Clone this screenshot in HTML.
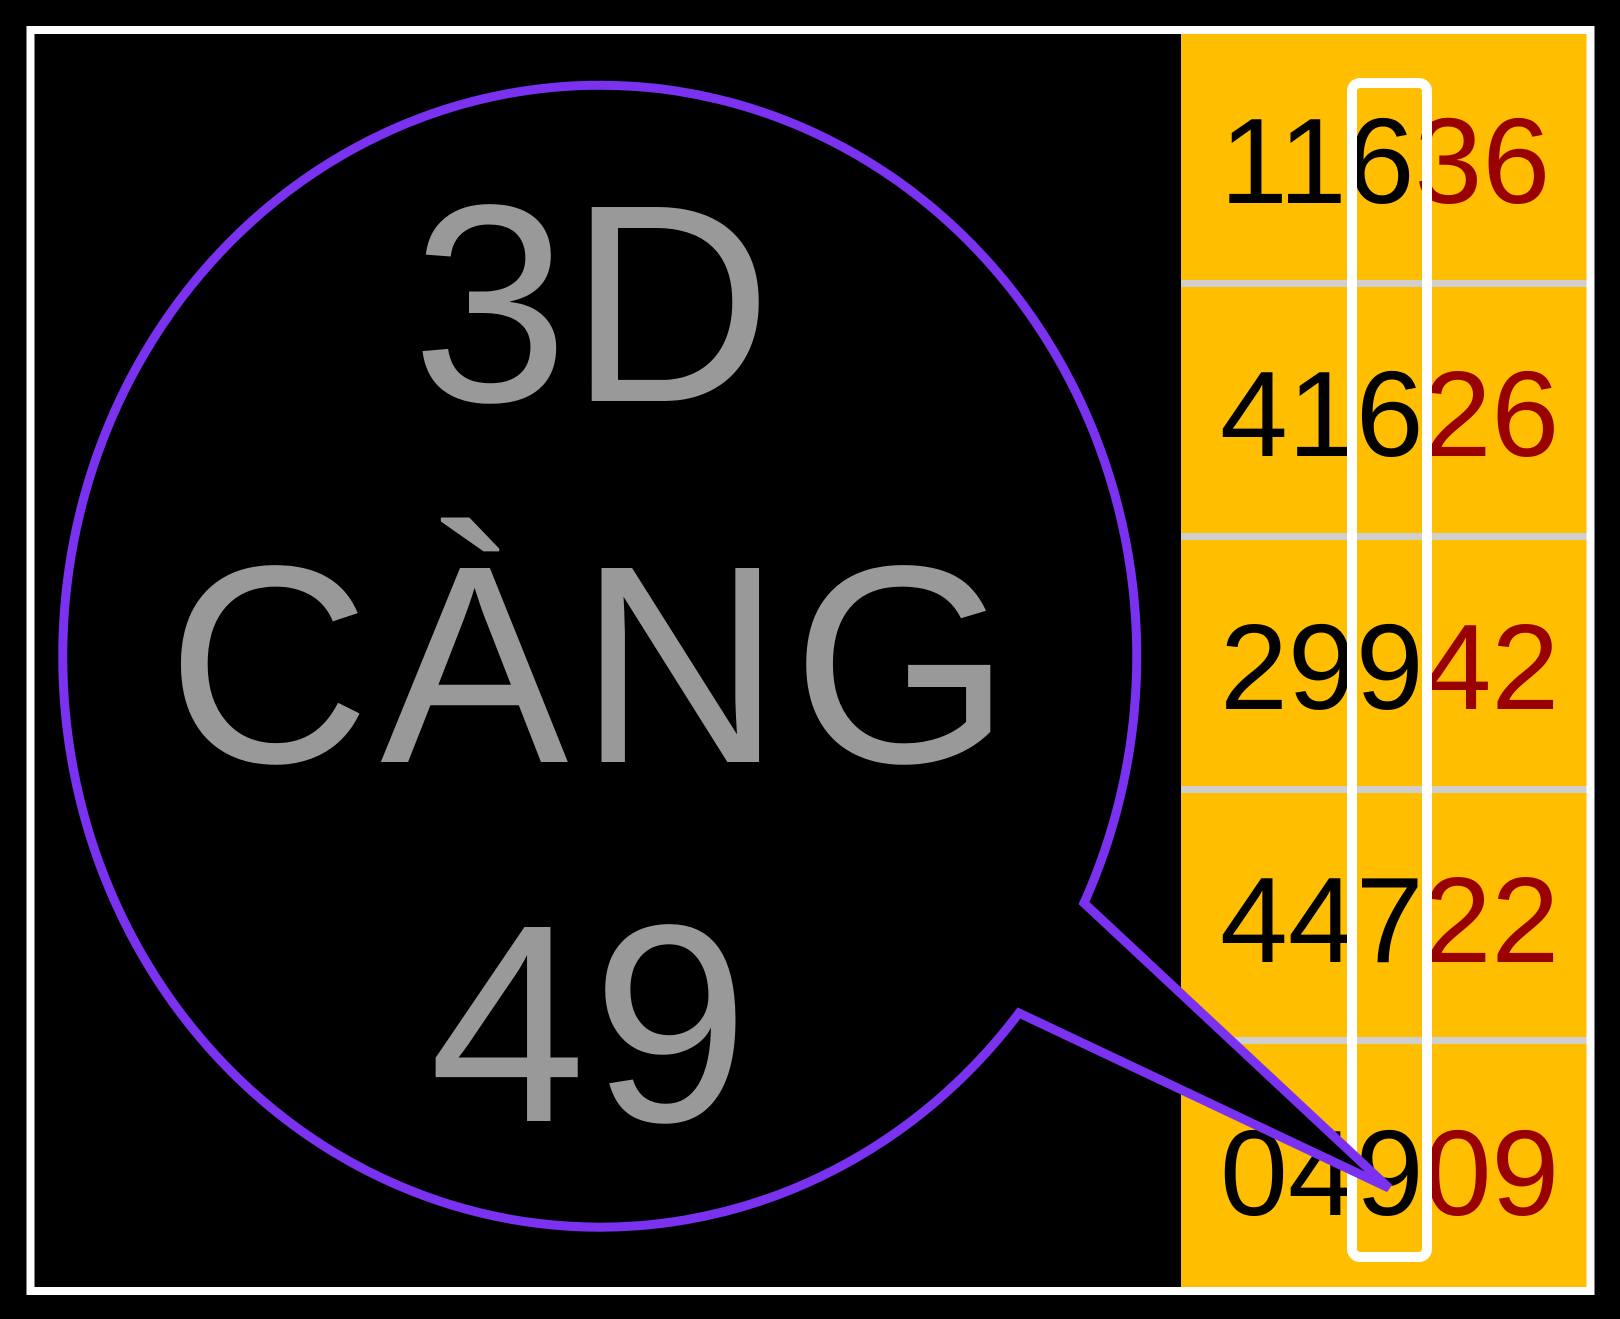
<!DOCTYPE html>
<html><head><meta charset="utf-8"><style>
html,body{margin:0;padding:0;background:#000;}
svg{display:block}
</style></head><body>
<svg width="1620" height="1319" viewBox="0 0 1620 1319" xmlns="http://www.w3.org/2000/svg">
<rect x="0" y="0" width="1620" height="1319" fill="#000"/>
<rect x="1181" y="34" width="406" height="1253" fill="#FFBE00"/>
<g fill="#cfcfcf">
<rect x="1181" y="280" width="406" height="7"/>
<rect x="1181" y="533" width="406" height="7"/>
<rect x="1181" y="786" width="406" height="7"/>
<rect x="1181" y="1037" width="406" height="7"/>
</g>
<rect x="30.5" y="30" width="1560" height="1261" fill="none" stroke="#fff" stroke-width="8"/>
<g font-family="'Liberation Sans', sans-serif" font-size="122" fill="#000">
<text x="1220" y="203">116<tspan fill="#990000">36</tspan></text>
<text x="1220" y="456">416<tspan fill="#990000">26</tspan></text>
<text x="1220" y="709">299<tspan fill="#990000">42</tspan></text>
<text x="1220" y="962">447<tspan fill="#990000">22</tspan></text>
<text x="1220" y="1215">049<tspan fill="#990000">09</tspan></text>
</g>
<rect x="1352" y="83" width="75" height="1174" rx="8" fill="none" stroke="#fff" stroke-width="10"/>
<path d="M 1084 903 A 537 571 0 1 0 1019 1013 L 1389 1188 Z" fill="#000" stroke="#7A32F0" stroke-width="9" stroke-linejoin="miter"/>
<g font-family="'Liberation Sans', sans-serif" font-size="282" fill="#999" text-anchor="middle">
<text x="592" y="401">3D</text>
<text x="594" y="762" letter-spacing="10">CÀNG</text>
<text x="592" y="1121" letter-spacing="6">49</text>
</g>
</svg>
</body></html>
